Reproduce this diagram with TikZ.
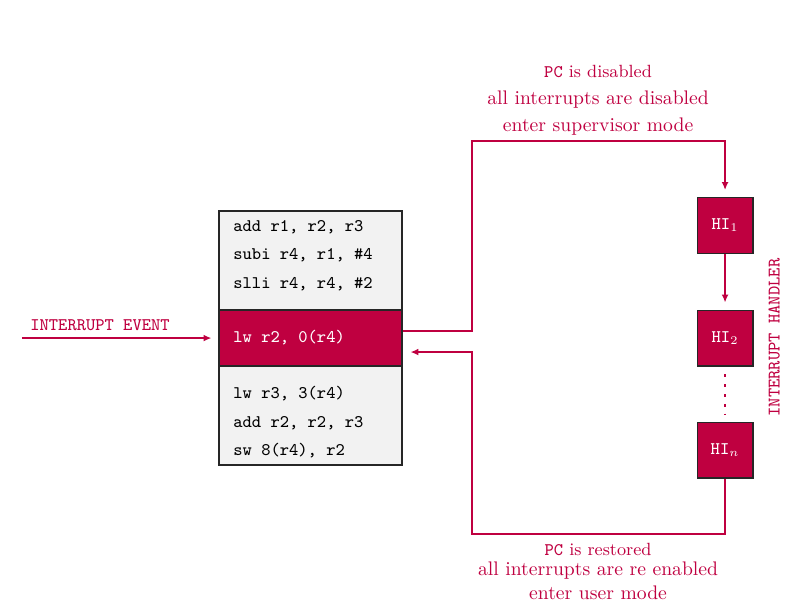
\documentclass[tikz,border=0pt]{standalone}
\usetikzlibrary{arrows.meta}
\tikzset{
    codebox/.style={draw=black!85, semithick, minimum width=3.273cm, inner sep=0pt},
    hibox/.style={draw=black!85, semithick, fill=purple, text=white, minimum width=1cm, minimum height=1cm, font=\small\ttfamily},
    codetext/.style={anchor=west, inner sep=0pt, align=left, font=\small\ttfamily},
    flow/.style={draw=purple, thick, -{Latex[length=4pt,width=3.5pt]}},
    note/.style={text=purple}
}
\begin{document}
\begin{tikzpicture}
    \useasboundingbox (0,0) rectangle (14.20,10.875);
    \node[codebox, fill=gray!10, minimum height=1.771cm] (before) at (5.554,6.215) {};
    \node[codebox, fill=purple, minimum height=1cm] (current) at (5.554,4.829) {};
    \node[codebox, fill=gray!10, minimum height=1.771cm] (after) at (5.554,3.443) {};
    \node[codetext] (beforecode) at (4.167,6.310) {add r1, r2, r3\\[3.5pt]subi r4, r1, \#4\\[3.5pt]slli r4, r4, \#2};
    \node[codetext, text=white] (currentcode) at (4.167,4.829) {lw r2, 0(r4)};
    \node[codetext] (aftercode) at (4.167,3.320) {lw r3, 3(r4)\\[3.5pt]add r2, r2, r3\\[3.5pt]sw 8(r4), r2};
    \node[hibox] (hi1) at (12.967,6.841) {HI$_1$};
    \node[hibox] (hi2) at (12.967,4.829) {HI$_2$};
    \node[hibox] (hin) at (12.967,2.826) {HI$_n$};
    \coordinate (event) at (0.393,4.829);
    \coordinate (goup) at (8.442,8.353);
    \coordinate (goback) at (8.442,1.324);
    \draw[flow, shorten >=0.125cm] (event) -- (current.west);
    \draw[flow, shorten >=0.125cm] ([yshift=0.125cm]current.east) -| (goup) -| (hi1.north);
    \draw[flow, shorten >=0.125cm] (hi1.south) -- (hi2.north);
    \draw[draw=purple, line width=1pt, dash pattern=on 1.5pt off 3.5pt, shorten <=0.14cm, shorten >=0.125cm] (hi2.south) -- (hin.north);
    \draw[flow, shorten >=0.14cm] (hin.south) |- (goback) |- ([yshift=-0.25cm]current.east);
    \node[note, font=\small\ttfamily] (eventlabel) at (1.789,5.062) {INTERRUPT EVENT};
    \node[note, font=\small\ttfamily, rotate=90] (handlerlabel) at (13.844,4.838) {INTERRUPT HANDLER};
    \node[note, font=\small] (enter1) at (10.696,9.600) {\texttt{PC} is disabled};
    \node[note] (enter2) at (10.696,9.090) {all interrupts are disabled};
    \node[note] (enter3) at (10.696,8.610) {enter supervisor mode};
    \node[note, font=\small] (leave1) at (10.696,1.055) {\texttt{PC} is restored};
    \node[note] (leave2) at (10.696,0.670) {all interrupts are re enabled};
    \node[note] (leave3) at (10.696,0.275) {enter user mode};
\end{tikzpicture}
\end{document}
